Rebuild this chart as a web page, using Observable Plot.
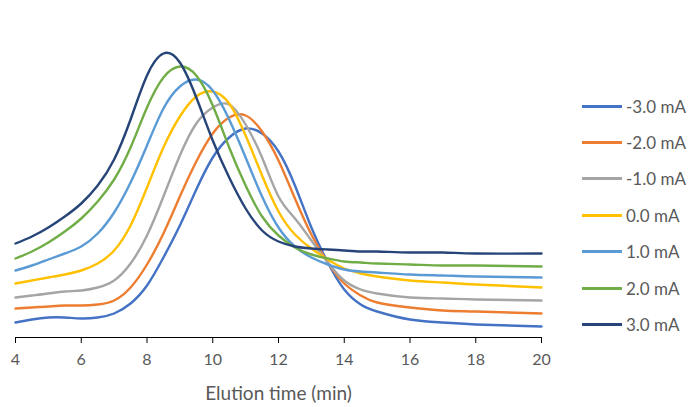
<!DOCTYPE html>
<html><head><meta charset="utf-8">
<script src="https://cdn.jsdelivr.net/npm/d3@7"></script>
<script src="https://cdn.jsdelivr.net/npm/@observablehq/plot@0.6"></script>
<style>
body{margin:0;background:#fff;font-family:Lato,"Open Sans",sans-serif;}
#wrap{position:relative;width:691px;height:407px;}
#legend{position:absolute;left:582px;top:88px;}
.row{display:flex;align-items:center;height:36.4px;}
.sw{width:40px;height:3px;margin-right:4px;}
.lab{font-size:17px;color:#595959;white-space:nowrap;}
g[aria-label="x-axis tick label"]{fill:#595959;}
g[aria-label="x-axis label"]{fill:#595959;}
</style></head><body><div id="wrap"><div id="legend"></div></div>
<script>
const time = [4,4.5,5,5.5,6,6.5,7,7.5,8,8.5,9,9.5,10,10.5,11,11.5,12,12.5,13,13.5,14,14.5,15,16,17,18,20];
const seriesNames = ["-3.0 mA","-2.0 mA","-1.0 mA","0.0 mA","1.0 mA","2.0 mA","3.0 mA"];
const seriesColors = ["#4472C4","#ED7D31","#A5A5A5","#FFC000","#5B9BD5","#70AD47","#264478"];
const sM3 = [15,18,20,20,19,20,24,34,52,80,112,148,180,200,209,204,186,152,110,75,48,33,26,18,15,13,11];
const sM2 = [29,30,31,32,32,33,37,50,73,104,141,176,204,220,222,206,177,139,103,75,54,42,35,30,27,26,24];
const sM1 = [40,42,44,46,47,50,57,74,102,141,182,214,230,233,213,180,141,119,97,75,57,48,44,40,39,38,37];
const s0  = [54,57,60,63,67,74,87,112,150,190,221,241,246,234,202,162,126,103,89,78,69,64,61,57,55,53,50];
const sP1 = [67,72,78,84,91,104,125,155,192,229,251,258,247,218,180,141,110,91,80,73,68,66,65,63,62,61,60];
const sP2 = [79,86,95,106,119,136,158,190,230,260,271,262,232,190,152,121,102,90,83,79,76,75,74,73,72,72,71];
const sP3 = [94,101,110,121,134,152,178,218,262,284,275,240,197,160,129,107,96,91,89,88,87,86,86,85,85,84,84];
const seriesValues = [sM3,sM2,sM1,s0,sP1,sP2,sP3];

const data = [];
seriesNames.forEach((name,i)=>{
  time.forEach((t,j)=>data.push({series:name,t,v:seriesValues[i][j]}));
});

const chart = Plot.plot({
  width:691, height:407,
  marginLeft:15, marginRight:150, marginTop:27, marginBottom:70,
  style:{fontFamily:"Lato, 'Open Sans', sans-serif", background:"#fff", overflow:"visible"},
  x:{domain:[4,20]},
  y:{domain:[0,310], axis:null},
  color:{domain:seriesNames, range:seriesColors},
  marks:[
    Plot.ruleY([0],{stroke:"#000",strokeWidth:1.2}),
    Plot.axisX({ticks:d3.range(4,21,2), tickSize:6, tickPadding:10, fontSize:16,
      label:"Elution time (min)", labelAnchor:"center", labelArrow:"none", labelOffset:62}),
    Plot.line(data,{x:"t",y:"v",z:"series",stroke:"series",strokeWidth:2.4,curve:"natural"})
  ]
});
document.getElementById("wrap").prepend(chart);
chart.querySelectorAll('g[aria-label="x-axis label"] text').forEach(t=>t.setAttribute("font-size","19"));

const leg = document.getElementById("legend");
seriesNames.forEach((n,i)=>{
  const r = document.createElement("div"); r.className="row";
  const s = document.createElement("div"); s.className="sw"; s.style.background=seriesColors[i];
  const l = document.createElement("div"); l.className="lab"; l.textContent=n;
  r.append(s,l); leg.append(r);
});
</script></body></html>
